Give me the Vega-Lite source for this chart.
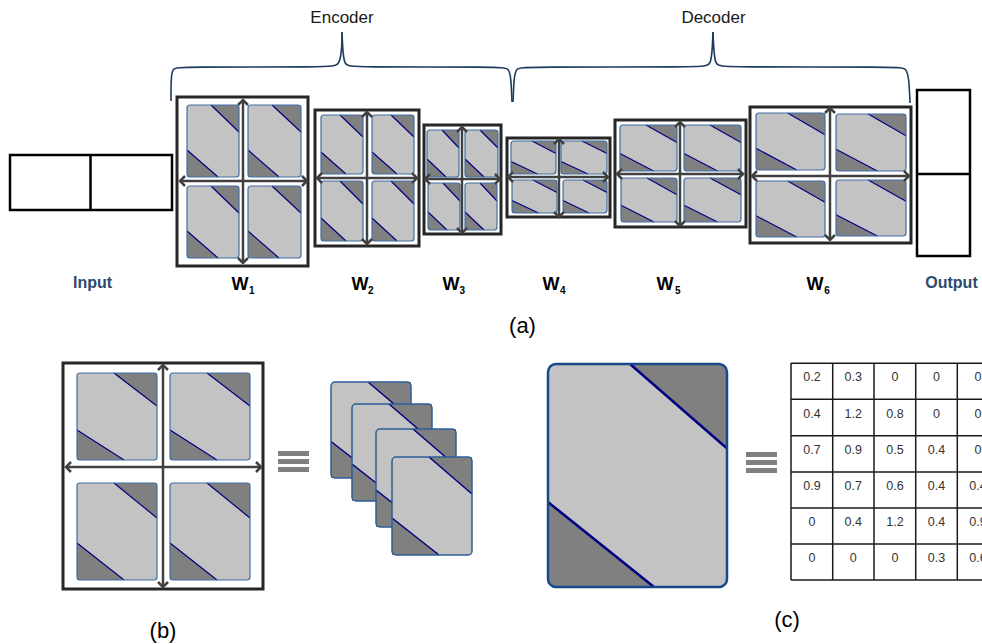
{
  "$schema": "https://vega.github.io/schema/vega-lite/v6.json",
  "width": 982,
  "height": 644,
  "padding": 0,
  "autosize": {"type": "none"},
  "background": "white",
  "config": {"view": {"stroke": null}},
  "datasets": {
    "braces": [
      {"seg":"e1","i":0,"x":171,"y":101},{"seg":"e1","i":1,"x":171,"y":78},{"seg":"e1","i":2,"x":172.5,"y":68},{"seg":"e1","i":3,"x":180,"y":67},{"seg":"e1","i":4,"x":330,"y":67},{"seg":"e1","i":5,"x":340,"y":66},{"seg":"e1","i":6,"x":342,"y":45},{"seg":"e1","i":7,"x":342,"y":32},
      {"seg":"e2","i":0,"x":342,"y":32},{"seg":"e2","i":1,"x":342.5,"y":45},{"seg":"e2","i":2,"x":344,"y":66},{"seg":"e2","i":3,"x":352,"y":67},{"seg":"e2","i":4,"x":500,"y":67},{"seg":"e2","i":5,"x":509,"y":68},{"seg":"e2","i":6,"x":511,"y":78},{"seg":"e2","i":7,"x":512,"y":102},
      {"seg":"d1","i":0,"x":513,"y":102},{"seg":"d1","i":1,"x":514,"y":78},{"seg":"d1","i":2,"x":516,"y":68},{"seg":"d1","i":3,"x":524,"y":67},{"seg":"d1","i":4,"x":703,"y":67},{"seg":"d1","i":5,"x":711,"y":66},{"seg":"d1","i":6,"x":712.5,"y":45},{"seg":"d1","i":7,"x":713,"y":32},
      {"seg":"d2","i":0,"x":713,"y":32},{"seg":"d2","i":1,"x":713.5,"y":45},{"seg":"d2","i":2,"x":715,"y":66},{"seg":"d2","i":3,"x":723,"y":67},{"seg":"d2","i":4,"x":899,"y":67},{"seg":"d2","i":5,"x":906,"y":68},{"seg":"d2","i":6,"x":909,"y":78},{"seg":"d2","i":7,"x":910,"y":103}
    ],
    "io": [
      {"x":10,"x2":172,"y":155,"y2":210},
      {"x":917,"x2":970,"y":90,"y2":256}
    ],
    "iolines": [
      {"x":90.5,"x2":90.5,"y":155,"y2":210},
      {"x":917,"x2":970,"y":174,"y2":174}
    ],
    "tiles": [
      {"id":"t1","g":"w","x":187,"x2":239,"y":105,"y2":177},
      {"id":"t2","g":"w","x":248,"x2":301,"y":105,"y2":177},
      {"id":"t3","g":"w","x":187,"x2":239,"y":186,"y2":258},
      {"id":"t4","g":"w","x":248,"x2":301,"y":186,"y2":258},
      {"id":"t5","g":"w","x":321,"x2":363,"y":115,"y2":174},
      {"id":"t6","g":"w","x":372,"x2":414,"y":115,"y2":174},
      {"id":"t7","g":"w","x":321,"x2":363,"y":181,"y2":241},
      {"id":"t8","g":"w","x":372,"x2":414,"y":181,"y2":241},
      {"id":"t9","g":"w","x":427,"x2":459,"y":130,"y2":177},
      {"id":"t10","g":"w","x":465,"x2":498,"y":130,"y2":177},
      {"id":"t11","g":"w","x":428,"x2":460,"y":183,"y2":230},
      {"id":"t12","g":"w","x":465,"x2":497,"y":183,"y2":230},
      {"id":"t13","g":"w","x":511,"x2":556,"y":141,"y2":174},
      {"id":"t14","g":"w","x":561,"x2":607,"y":141,"y2":174},
      {"id":"t15","g":"w","x":512,"x2":557,"y":180,"y2":213},
      {"id":"t16","g":"w","x":563,"x2":607,"y":180,"y2":213},
      {"id":"t17","g":"w","x":620,"x2":677,"y":125,"y2":171},
      {"id":"t18","g":"w","x":684,"x2":741,"y":125,"y2":171},
      {"id":"t19","g":"w","x":621,"x2":677,"y":178,"y2":222},
      {"id":"t20","g":"w","x":684,"x2":741,"y":178,"y2":222},
      {"id":"t21","g":"w","x":756,"x2":825,"y":113,"y2":170},
      {"id":"t22","g":"w","x":836,"x2":906,"y":114,"y2":171},
      {"id":"t23","g":"w","x":756,"x2":825,"y":181,"y2":237},
      {"id":"t24","g":"w","x":836,"x2":906,"y":180,"y2":236},
      {"id":"t25","g":"w","x":77,"x2":157,"y":373,"y2":460},
      {"id":"t26","g":"w","x":170,"x2":250,"y":373,"y2":460},
      {"id":"t27","g":"w","x":77,"x2":157,"y":483,"y2":580},
      {"id":"t28","g":"w","x":170,"x2":250,"y":483,"y2":580},
      {"id":"s1","g":"s1","x":331,"x2":411,"y":382,"y2":478},
      {"id":"s2","g":"s2","x":352,"x2":432,"y":404,"y2":501},
      {"id":"s3","g":"s3","x":376,"x2":456,"y":429,"y2":527},
      {"id":"s4","g":"s4","x":392,"x2":472,"y":457,"y2":555},
      {"id":"c1","g":"c","x":548,"x2":727,"y":364,"y2":587}
    ],
    "tris": [
      {"tid":"t1a","g":"w","x":211,"y":105,"y2":105},{"tid":"t1a","g":"w","x":239,"y":132,"y2":105},
      {"tid":"t1b","g":"w","x":187,"y":150,"y2":177},{"tid":"t1b","g":"w","x":218,"y":177,"y2":177},
      {"tid":"t2a","g":"w","x":272,"y":105,"y2":105},{"tid":"t2a","g":"w","x":301,"y":132,"y2":105},
      {"tid":"t2b","g":"w","x":248,"y":150,"y2":177},{"tid":"t2b","g":"w","x":279,"y":177,"y2":177},
      {"tid":"t3a","g":"w","x":211,"y":186,"y2":186},{"tid":"t3a","g":"w","x":239,"y":213,"y2":186},
      {"tid":"t3b","g":"w","x":187,"y":231,"y2":258},{"tid":"t3b","g":"w","x":218,"y":258,"y2":258},
      {"tid":"t4a","g":"w","x":272,"y":186,"y2":186},{"tid":"t4a","g":"w","x":301,"y":213,"y2":186},
      {"tid":"t4b","g":"w","x":248,"y":231,"y2":258},{"tid":"t4b","g":"w","x":279,"y":258,"y2":258},
      {"tid":"t5a","g":"w","x":340,"y":115,"y2":115},{"tid":"t5a","g":"w","x":363,"y":137,"y2":115},
      {"tid":"t5b","g":"w","x":321,"y":152,"y2":174},{"tid":"t5b","g":"w","x":346,"y":174,"y2":174},
      {"tid":"t6a","g":"w","x":391,"y":115,"y2":115},{"tid":"t6a","g":"w","x":414,"y":137,"y2":115},
      {"tid":"t6b","g":"w","x":372,"y":152,"y2":174},{"tid":"t6b","g":"w","x":397,"y":174,"y2":174},
      {"tid":"t7a","g":"w","x":340,"y":181,"y2":181},{"tid":"t7a","g":"w","x":363,"y":204,"y2":181},
      {"tid":"t7b","g":"w","x":321,"y":218,"y2":241},{"tid":"t7b","g":"w","x":346,"y":241,"y2":241},
      {"tid":"t8a","g":"w","x":391,"y":181,"y2":181},{"tid":"t8a","g":"w","x":414,"y":204,"y2":181},
      {"tid":"t8b","g":"w","x":372,"y":218,"y2":241},{"tid":"t8b","g":"w","x":397,"y":241,"y2":241},
      {"tid":"t9a","g":"w","x":442,"y":130,"y2":130},{"tid":"t9a","g":"w","x":459,"y":148,"y2":130},
      {"tid":"t9b","g":"w","x":427,"y":159,"y2":177},{"tid":"t9b","g":"w","x":446,"y":177,"y2":177},
      {"tid":"t10a","g":"w","x":480,"y":130,"y2":130},{"tid":"t10a","g":"w","x":498,"y":148,"y2":130},
      {"tid":"t10b","g":"w","x":465,"y":159,"y2":177},{"tid":"t10b","g":"w","x":484,"y":177,"y2":177},
      {"tid":"t11a","g":"w","x":443,"y":183,"y2":183},{"tid":"t11a","g":"w","x":460,"y":201,"y2":183},
      {"tid":"t11b","g":"w","x":428,"y":212,"y2":230},{"tid":"t11b","g":"w","x":447,"y":230,"y2":230},
      {"tid":"t12a","g":"w","x":480,"y":183,"y2":183},{"tid":"t12a","g":"w","x":497,"y":201,"y2":183},
      {"tid":"t12b","g":"w","x":465,"y":212,"y2":230},{"tid":"t12b","g":"w","x":484,"y":230,"y2":230},
      {"tid":"t13a","g":"w","x":532,"y":141,"y2":141},{"tid":"t13a","g":"w","x":556,"y":153.5,"y2":141},
      {"tid":"t13b","g":"w","x":511,"y":161.5,"y2":174},{"tid":"t13b","g":"w","x":537.5,"y":174,"y2":174},
      {"tid":"t14a","g":"w","x":582,"y":141,"y2":141},{"tid":"t14a","g":"w","x":607,"y":153.5,"y2":141},
      {"tid":"t14b","g":"w","x":561,"y":161.5,"y2":174},{"tid":"t14b","g":"w","x":588,"y":174,"y2":174},
      {"tid":"t15a","g":"w","x":533,"y":180,"y2":180},{"tid":"t15a","g":"w","x":557,"y":192.5,"y2":180},
      {"tid":"t15b","g":"w","x":512,"y":200.5,"y2":213},{"tid":"t15b","g":"w","x":538.5,"y":213,"y2":213},
      {"tid":"t16a","g":"w","x":583,"y":180,"y2":180},{"tid":"t16a","g":"w","x":607,"y":192.5,"y2":180},
      {"tid":"t16b","g":"w","x":563,"y":200.5,"y2":213},{"tid":"t16b","g":"w","x":589,"y":213,"y2":213},
      {"tid":"t17a","g":"w","x":646,"y":125,"y2":125},{"tid":"t17a","g":"w","x":677,"y":142.5,"y2":125},
      {"tid":"t17b","g":"w","x":620,"y":153.5,"y2":171},{"tid":"t17b","g":"w","x":653.5,"y":171,"y2":171},
      {"tid":"t18a","g":"w","x":710,"y":125,"y2":125},{"tid":"t18a","g":"w","x":741,"y":142.5,"y2":125},
      {"tid":"t18b","g":"w","x":684,"y":153.5,"y2":171},{"tid":"t18b","g":"w","x":717.5,"y":171,"y2":171},
      {"tid":"t19a","g":"w","x":647,"y":178,"y2":178},{"tid":"t19a","g":"w","x":677,"y":194.7,"y2":178},
      {"tid":"t19b","g":"w","x":621,"y":205.3,"y2":222},{"tid":"t19b","g":"w","x":654,"y":222,"y2":222},
      {"tid":"t20a","g":"w","x":710,"y":178,"y2":178},{"tid":"t20a","g":"w","x":741,"y":194.7,"y2":178},
      {"tid":"t20b","g":"w","x":684,"y":205.3,"y2":222},{"tid":"t20b","g":"w","x":717.5,"y":222,"y2":222},
      {"tid":"t21a","g":"w","x":787.7,"y":113,"y2":113},{"tid":"t21a","g":"w","x":825,"y":134.7,"y2":113},
      {"tid":"t21b","g":"w","x":756,"y":148.3,"y2":170},{"tid":"t21b","g":"w","x":796.7,"y":170,"y2":170},
      {"tid":"t22a","g":"w","x":868.2,"y":114,"y2":114},{"tid":"t22a","g":"w","x":906,"y":135.7,"y2":114},
      {"tid":"t22b","g":"w","x":836,"y":149.3,"y2":171},{"tid":"t22b","g":"w","x":877.3,"y":171,"y2":171},
      {"tid":"t23a","g":"w","x":787.7,"y":181,"y2":181},{"tid":"t23a","g":"w","x":825,"y":202.3,"y2":181},
      {"tid":"t23b","g":"w","x":756,"y":215.7,"y2":237},{"tid":"t23b","g":"w","x":796.7,"y":237,"y2":237},
      {"tid":"t24a","g":"w","x":868.2,"y":180,"y2":180},{"tid":"t24a","g":"w","x":906,"y":201.3,"y2":180},
      {"tid":"t24b","g":"w","x":836,"y":214.7,"y2":236},{"tid":"t24b","g":"w","x":877.3,"y":236,"y2":236},
      {"tid":"t25a","g":"w","x":114,"y":373,"y2":373},{"tid":"t25a","g":"w","x":157,"y":406,"y2":373},
      {"tid":"t25b","g":"w","x":77,"y":430,"y2":460},{"tid":"t25b","g":"w","x":124,"y":460,"y2":460},
      {"tid":"t26a","g":"w","x":207,"y":373,"y2":373},{"tid":"t26a","g":"w","x":250,"y":406,"y2":373},
      {"tid":"t26b","g":"w","x":170,"y":430,"y2":460},{"tid":"t26b","g":"w","x":217,"y":460,"y2":460},
      {"tid":"t27a","g":"w","x":114,"y":483,"y2":483},{"tid":"t27a","g":"w","x":157,"y":518,"y2":483},
      {"tid":"t27b","g":"w","x":77,"y":543,"y2":580},{"tid":"t27b","g":"w","x":124,"y":580,"y2":580},
      {"tid":"t28a","g":"w","x":207,"y":483,"y2":483},{"tid":"t28a","g":"w","x":250,"y":518,"y2":483},
      {"tid":"t28b","g":"w","x":170,"y":543,"y2":580},{"tid":"t28b","g":"w","x":217,"y":580,"y2":580},
      {"tid":"s1a","g":"s1","x":368,"y":382,"y2":382},{"tid":"s1a","g":"s1","x":411,"y":418.5,"y2":382},
      {"tid":"s1b","g":"s1","x":331,"y":441.5,"y2":478},{"tid":"s1b","g":"s1","x":378,"y":478,"y2":478},
      {"tid":"s2a","g":"s2","x":389,"y":404,"y2":404},{"tid":"s2a","g":"s2","x":432,"y":441,"y2":404},
      {"tid":"s2b","g":"s2","x":352,"y":464,"y2":501},{"tid":"s2b","g":"s2","x":399,"y":501,"y2":501},
      {"tid":"s3a","g":"s3","x":413,"y":429,"y2":429},{"tid":"s3a","g":"s3","x":456,"y":466,"y2":429},
      {"tid":"s3b","g":"s3","x":376,"y":490,"y2":527},{"tid":"s3b","g":"s3","x":423,"y":527,"y2":527},
      {"tid":"s4a","g":"s4","x":429,"y":457,"y2":457},{"tid":"s4a","g":"s4","x":472,"y":494,"y2":457},
      {"tid":"s4b","g":"s4","x":392,"y":518,"y2":555},{"tid":"s4b","g":"s4","x":439,"y":555,"y2":555},
      {"tid":"c1a","g":"c","x":630,"y":364,"y2":364},{"tid":"c1a","g":"c","x":719,"y":441.5,"y2":364},{"tid":"c1a","g":"c","x":724,"y":445.9,"y2":365.8},{"tid":"c1a","g":"c","x":726,"y":447.6,"y2":368.1},{"tid":"c1a","g":"c","x":727,"y":448.5,"y2":372},
      {"tid":"c1b","g":"c","x":548,"y":502,"y2":579},{"tid":"c1b","g":"c","x":549,"y":502.8,"y2":582.9},{"tid":"c1b","g":"c","x":551,"y":504.4,"y2":585.2},{"tid":"c1b","g":"c","x":556,"y":508.4,"y2":587},{"tid":"c1b","g":"c","x":654,"y":587,"y2":587}
    ],
    "boxes": [
      {"x":177,"x2":308,"y":97,"y2":266},
      {"x":315,"x2":419,"y":110,"y2":246},
      {"x":424,"x2":501,"y":125,"y2":234},
      {"x":507,"x2":610,"y":138,"y2":217},
      {"x":615,"x2":746,"y":120,"y2":227},
      {"x":750,"x2":911,"y":107,"y2":243},
      {"x":63,"x2":263,"y":363,"y2":589}
    ],
    "arrows": [
      {"o":"v","x":243,"y":100,"x2":243,"y2":263},
      {"o":"h","x":180,"y":181,"x2":307,"y2":181},
      {"o":"v","x":367,"y":112,"x2":367,"y2":244},
      {"o":"h","x":317,"y":178,"x2":417,"y2":178},
      {"o":"v","x":462,"y":127,"x2":462,"y2":233},
      {"o":"h","x":425,"y":179,"x2":500,"y2":179},
      {"o":"v","x":559,"y":139,"x2":559,"y2":217},
      {"o":"h","x":508,"y":177,"x2":608,"y2":177},
      {"o":"v","x":680,"y":122,"x2":680,"y2":226},
      {"o":"h","x":617,"y":174,"x2":743,"y2":174},
      {"o":"v","x":830,"y":108,"x2":830,"y2":240},
      {"o":"h","x":752,"y":176,"x2":909,"y2":176},
      {"o":"v","x":163,"y":365,"x2":163,"y2":587},
      {"o":"h","x":66,"y":467,"x2":261,"y2":467}
    ],
    "bars": [
      {"x":278,"x2":309,"y":451,"y2":456},
      {"x":278,"x2":309,"y":459,"y2":464},
      {"x":278,"x2":309,"y":467,"y2":472},
      {"x":746,"x2":777,"y":452,"y2":457},
      {"x":746,"x2":777,"y":460,"y2":465},
      {"x":746,"x2":777,"y":468,"y2":473}
    ],
    "grid": [
      {"x":791,"x2":791,"y":363,"y2":580},
      {"x":832.7,"x2":832.7,"y":363,"y2":580},
      {"x":874,"x2":874,"y":363,"y2":580},
      {"x":915.7,"x2":915.7,"y":363,"y2":580},
      {"x":957.3,"x2":957.3,"y":363,"y2":580},
      {"x":791,"x2":982,"y":363.3,"y2":363.3},
      {"x":791,"x2":982,"y":399.3,"y2":399.3},
      {"x":791,"x2":982,"y":435.7,"y2":435.7},
      {"x":791,"x2":982,"y":472,"y2":472},
      {"x":791,"x2":982,"y":508,"y2":508},
      {"x":791,"x2":982,"y":544,"y2":544},
      {"x":791,"x2":982,"y":580,"y2":580}
    ],
    "cells": [
      {"x":812,"y":377.3,"v":"0.2"},{"x":853.3,"y":377.3,"v":"0.3"},{"x":895,"y":377.3,"v":"0"},{"x":936.5,"y":377.3,"v":"0"},{"x":978,"y":377.3,"v":"0"},
      {"x":812,"y":413.5,"v":"0.4"},{"x":853.3,"y":413.5,"v":"1.2"},{"x":895,"y":413.5,"v":"0.8"},{"x":936.5,"y":413.5,"v":"0"},{"x":978,"y":413.5,"v":"0"},
      {"x":812,"y":449.8,"v":"0.7"},{"x":853.3,"y":449.8,"v":"0.9"},{"x":895,"y":449.8,"v":"0.5"},{"x":936.5,"y":449.8,"v":"0.4"},{"x":978,"y":449.8,"v":"0"},
      {"x":812,"y":486,"v":"0.9"},{"x":853.3,"y":486,"v":"0.7"},{"x":895,"y":486,"v":"0.6"},{"x":936.5,"y":486,"v":"0.4"},{"x":978,"y":486,"v":"0.4"},
      {"x":812,"y":522,"v":"0"},{"x":853.3,"y":522,"v":"0.4"},{"x":895,"y":522,"v":"1.2"},{"x":936.5,"y":522,"v":"0.4"},{"x":978,"y":522,"v":"0.9"},
      {"x":812,"y":558,"v":"0"},{"x":853.3,"y":558,"v":"0"},{"x":895,"y":558,"v":"0"},{"x":936.5,"y":558,"v":"0.3"},{"x":978,"y":558,"v":"0.6"}
    ],
    "labels": [
      {"kind":"head","x":342,"y":23,"t":"Encoder"},
      {"kind":"head","x":713.5,"y":23,"t":"Decoder"},
      {"kind":"io","x":92.5,"y":288,"t":"Input"},
      {"kind":"io","x":951.5,"y":288,"t":"Output"},
      {"kind":"w","x":240,"y":290,"t":"W"},
      {"kind":"w","x":360,"y":290,"t":"W"},
      {"kind":"w","x":451,"y":290,"t":"W"},
      {"kind":"w","x":551,"y":290,"t":"W"},
      {"kind":"w","x":665,"y":290,"t":"W"},
      {"kind":"w","x":815,"y":290,"t":"W"},
      {"kind":"sub","x":251.7,"y":294,"t":"1"},
      {"kind":"sub","x":370.7,"y":294,"t":"2"},
      {"kind":"sub","x":462.3,"y":294,"t":"3"},
      {"kind":"sub","x":562.7,"y":294,"t":"4"},
      {"kind":"sub","x":677.7,"y":294,"t":"5"},
      {"kind":"sub","x":827,"y":294,"t":"6"},
      {"kind":"cap","x":522.5,"y":333,"t":"(a)"},
      {"kind":"cap","x":163,"y":638,"t":"(b)"},
      {"kind":"cap","x":787,"y":627,"t":"(c)"}
    ]
  },
  "encoding": {
    "x": {"field": "x", "type": "quantitative", "scale": {"domain": [0, 982], "nice": false, "zero": false}, "axis": null},
    "y": {"field": "y", "type": "quantitative", "scale": {"domain": [0, 644], "nice": false, "zero": false, "reverse": true}, "axis": null}
  },
  "layer": [
    {
      "data": {"name": "braces"},
      "mark": {"type": "line", "interpolate": "basis", "stroke": "#1f3b5c", "strokeWidth": 1.6},
      "encoding": {"detail": {"field": "seg"}, "order": {"field": "i", "type": "quantitative"}}
    },
    {
      "data": {"name": "io"},
      "mark": {"type": "rect", "filled": false, "stroke": "#000000", "strokeWidth": 2.5},
      "encoding": {"x2": {"field": "x2"}, "y2": {"field": "y2"}}
    },
    {
      "data": {"name": "iolines"},
      "mark": {"type": "rule", "stroke": "#000000", "strokeWidth": 2.5},
      "encoding": {"x2": {"field": "x2"}, "y2": {"field": "y2"}}
    },
    {
      "data": {"name": "tiles"},
      "transform": [{"filter": "datum.g == 'w'"}],
      "mark": {"type": "rect", "fill": "#c3c3c3", "cornerRadius": 3},
      "encoding": {"x2": {"field": "x2"}, "y2": {"field": "y2"}}
    },
    {
      "data": {"name": "tris"},
      "transform": [{"filter": "datum.g == 'w'"}],
      "mark": {"type": "area", "fill": "#808080", "opacity": 1},
      "encoding": {"y2": {"field": "y2"}, "detail": {"field": "tid"}}
    },
    {
      "data": {"name": "tris"},
      "transform": [{"filter": "datum.g == 'w'"}],
      "mark": {"type": "line", "stroke": "#000080", "strokeWidth": 1.2},
      "encoding": {"detail": {"field": "tid"}}
    },
    {
      "data": {"name": "tiles"},
      "transform": [{"filter": "datum.g == 'w'"}],
      "mark": {"type": "rect", "filled": false, "stroke": "#3f6fa6", "strokeWidth": 1.2, "cornerRadius": 3},
      "encoding": {"x2": {"field": "x2"}, "y2": {"field": "y2"}}
    },
    {
      "data": {"name": "boxes"},
      "mark": {"type": "rect", "filled": false, "stroke": "#262626", "strokeWidth": 3},
      "encoding": {"x2": {"field": "x2"}, "y2": {"field": "y2"}}
    },
    {
      "data": {"name": "arrows"},
      "mark": {"type": "rule", "stroke": "#404040", "strokeWidth": 2.5},
      "encoding": {"x2": {"field": "x2"}, "y2": {"field": "y2"}}
    },
    {
      "data": {"name": "arrows"},
      "transform": [{"filter": "datum.o == 'v'"}],
      "mark": {"type": "point", "shape": "M-1,1L0,0L1,1", "filled": false, "stroke": "#404040", "strokeWidth": 2.5, "size": 100, "angle": 0, "opacity": 1}
    },
    {
      "data": {"name": "arrows"},
      "transform": [{"filter": "datum.o == 'v'"}],
      "mark": {"type": "point", "shape": "M-1,1L0,0L1,1", "filled": false, "stroke": "#404040", "strokeWidth": 2.5, "size": 100, "angle": 180, "opacity": 1},
      "encoding": {
        "x": {"field": "x2", "type": "quantitative", "scale": {"domain": [0, 982], "nice": false, "zero": false}, "axis": null},
        "y": {"field": "y2", "type": "quantitative", "scale": {"domain": [0, 644], "nice": false, "zero": false, "reverse": true}, "axis": null}
      }
    },
    {
      "data": {"name": "arrows"},
      "transform": [{"filter": "datum.o == 'h'"}],
      "mark": {"type": "point", "shape": "M-1,1L0,0L1,1", "filled": false, "stroke": "#404040", "strokeWidth": 2.5, "size": 100, "angle": 270, "opacity": 1}
    },
    {
      "data": {"name": "arrows"},
      "transform": [{"filter": "datum.o == 'h'"}],
      "mark": {"type": "point", "shape": "M-1,1L0,0L1,1", "filled": false, "stroke": "#404040", "strokeWidth": 2.5, "size": 100, "angle": 90, "opacity": 1},
      "encoding": {
        "x": {"field": "x2", "type": "quantitative", "scale": {"domain": [0, 982], "nice": false, "zero": false}, "axis": null},
        "y": {"field": "y2", "type": "quantitative", "scale": {"domain": [0, 644], "nice": false, "zero": false, "reverse": true}, "axis": null}
      }
    },
    {"data": {"name": "tiles"}, "transform": [{"filter": "datum.g == 's1'"}], "mark": {"type": "rect", "fill": "#c3c3c3", "cornerRadius": 4}, "encoding": {"x2": {"field": "x2"}, "y2": {"field": "y2"}}},
    {"data": {"name": "tris"}, "transform": [{"filter": "datum.g == 's1'"}], "mark": {"type": "area", "fill": "#808080", "opacity": 1}, "encoding": {"y2": {"field": "y2"}, "detail": {"field": "tid"}}},
    {"data": {"name": "tris"}, "transform": [{"filter": "datum.g == 's1'"}], "mark": {"type": "line", "stroke": "#000080", "strokeWidth": 1.5}, "encoding": {"detail": {"field": "tid"}}},
    {"data": {"name": "tiles"}, "transform": [{"filter": "datum.g == 's1'"}], "mark": {"type": "rect", "filled": false, "stroke": "#2c5d98", "strokeWidth": 1.5, "cornerRadius": 4}, "encoding": {"x2": {"field": "x2"}, "y2": {"field": "y2"}}},
    {"data": {"name": "tiles"}, "transform": [{"filter": "datum.g == 's2'"}], "mark": {"type": "rect", "fill": "#c3c3c3", "cornerRadius": 4}, "encoding": {"x2": {"field": "x2"}, "y2": {"field": "y2"}}},
    {"data": {"name": "tris"}, "transform": [{"filter": "datum.g == 's2'"}], "mark": {"type": "area", "fill": "#808080", "opacity": 1}, "encoding": {"y2": {"field": "y2"}, "detail": {"field": "tid"}}},
    {"data": {"name": "tris"}, "transform": [{"filter": "datum.g == 's2'"}], "mark": {"type": "line", "stroke": "#000080", "strokeWidth": 1.5}, "encoding": {"detail": {"field": "tid"}}},
    {"data": {"name": "tiles"}, "transform": [{"filter": "datum.g == 's2'"}], "mark": {"type": "rect", "filled": false, "stroke": "#2c5d98", "strokeWidth": 1.5, "cornerRadius": 4}, "encoding": {"x2": {"field": "x2"}, "y2": {"field": "y2"}}},
    {"data": {"name": "tiles"}, "transform": [{"filter": "datum.g == 's3'"}], "mark": {"type": "rect", "fill": "#c3c3c3", "cornerRadius": 4}, "encoding": {"x2": {"field": "x2"}, "y2": {"field": "y2"}}},
    {"data": {"name": "tris"}, "transform": [{"filter": "datum.g == 's3'"}], "mark": {"type": "area", "fill": "#808080", "opacity": 1}, "encoding": {"y2": {"field": "y2"}, "detail": {"field": "tid"}}},
    {"data": {"name": "tris"}, "transform": [{"filter": "datum.g == 's3'"}], "mark": {"type": "line", "stroke": "#000080", "strokeWidth": 1.5}, "encoding": {"detail": {"field": "tid"}}},
    {"data": {"name": "tiles"}, "transform": [{"filter": "datum.g == 's3'"}], "mark": {"type": "rect", "filled": false, "stroke": "#2c5d98", "strokeWidth": 1.5, "cornerRadius": 4}, "encoding": {"x2": {"field": "x2"}, "y2": {"field": "y2"}}},
    {"data": {"name": "tiles"}, "transform": [{"filter": "datum.g == 's4'"}], "mark": {"type": "rect", "fill": "#c3c3c3", "cornerRadius": 4}, "encoding": {"x2": {"field": "x2"}, "y2": {"field": "y2"}}},
    {"data": {"name": "tris"}, "transform": [{"filter": "datum.g == 's4'"}], "mark": {"type": "area", "fill": "#808080", "opacity": 1}, "encoding": {"y2": {"field": "y2"}, "detail": {"field": "tid"}}},
    {"data": {"name": "tris"}, "transform": [{"filter": "datum.g == 's4'"}], "mark": {"type": "line", "stroke": "#000080", "strokeWidth": 1.5}, "encoding": {"detail": {"field": "tid"}}},
    {"data": {"name": "tiles"}, "transform": [{"filter": "datum.g == 's4'"}], "mark": {"type": "rect", "filled": false, "stroke": "#2c5d98", "strokeWidth": 1.5, "cornerRadius": 4}, "encoding": {"x2": {"field": "x2"}, "y2": {"field": "y2"}}},
    {"data": {"name": "tiles"}, "transform": [{"filter": "datum.g == 'c'"}], "mark": {"type": "rect", "fill": "#c3c3c3", "cornerRadius": 8}, "encoding": {"x2": {"field": "x2"}, "y2": {"field": "y2"}}},
    {"data": {"name": "tris"}, "transform": [{"filter": "datum.g == 'c'"}], "mark": {"type": "area", "fill": "#808080", "opacity": 1}, "encoding": {"y2": {"field": "y2"}, "detail": {"field": "tid"}}},
    {"data": {"name": "tris"}, "transform": [{"filter": "datum.g == 'c'"}], "mark": {"type": "line", "stroke": "#000080", "strokeWidth": 2.5}, "encoding": {"detail": {"field": "tid"}}},
    {"data": {"name": "tiles"}, "transform": [{"filter": "datum.g == 'c'"}], "mark": {"type": "rect", "filled": false, "stroke": "#174a8a", "strokeWidth": 2.5, "cornerRadius": 8}, "encoding": {"x2": {"field": "x2"}, "y2": {"field": "y2"}}},
    {
      "data": {"name": "bars"},
      "mark": {"type": "rect", "fill": "#808080"},
      "encoding": {"x2": {"field": "x2"}, "y2": {"field": "y2"}}
    },
    {
      "data": {"name": "grid"},
      "mark": {"type": "rule", "stroke": "#1a1a1a", "strokeWidth": 1.5},
      "encoding": {"x2": {"field": "x2"}, "y2": {"field": "y2"}}
    },
    {
      "data": {"name": "cells"},
      "mark": {"type": "text", "font": "Liberation Sans", "fontSize": 12.5, "fill": "#333333", "align": "center", "baseline": "middle"},
      "encoding": {"text": {"field": "v"}}
    },
    {
      "data": {"name": "labels"},
      "transform": [{"filter": "datum.kind == 'head'"}],
      "mark": {"type": "text", "font": "Liberation Sans", "fontSize": 17, "fill": "#1a1a1a", "align": "center", "baseline": "alphabetic"},
      "encoding": {"text": {"field": "t"}}
    },
    {
      "data": {"name": "labels"},
      "transform": [{"filter": "datum.kind == 'io'"}],
      "mark": {"type": "text", "font": "Liberation Sans", "fontSize": 16, "fontWeight": "bold", "fill": "#2d4a6b", "align": "center", "baseline": "alphabetic"},
      "encoding": {"text": {"field": "t"}}
    },
    {
      "data": {"name": "labels"},
      "transform": [{"filter": "datum.kind == 'w'"}],
      "mark": {"type": "text", "font": "Liberation Sans", "fontSize": 18, "fontWeight": "bold", "fill": "#000000", "align": "center", "baseline": "alphabetic"},
      "encoding": {"text": {"field": "t"}}
    },
    {
      "data": {"name": "labels"},
      "transform": [{"filter": "datum.kind == 'sub'"}],
      "mark": {"type": "text", "font": "Liberation Sans", "fontSize": 10, "fontWeight": "bold", "fill": "#000000", "align": "center", "baseline": "alphabetic"},
      "encoding": {"text": {"field": "t"}}
    },
    {
      "data": {"name": "labels"},
      "transform": [{"filter": "datum.kind == 'cap'"}],
      "mark": {"type": "text", "font": "Liberation Sans", "fontSize": 22, "fill": "#000000", "align": "center", "baseline": "alphabetic"},
      "encoding": {"text": {"field": "t"}}
    }
  ]
}
